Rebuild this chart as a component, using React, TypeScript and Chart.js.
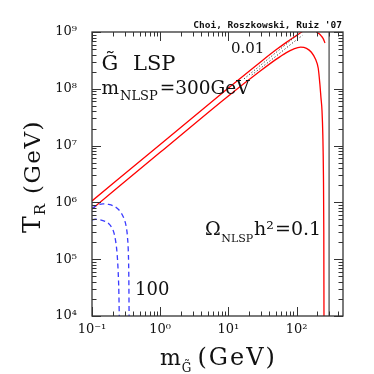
import React, { useEffect, useRef } from 'react';
import { Chart, registerables } from 'chart.js';

Chart.register(...registerables);

// ---- axis ranges & tick labels ----
const xRange = [0.1, 480];
const yRange = [1e4, 1e9];
const xTickValues = [0.1, 1, 10, 100];
const xTickLabels = ['10⁻¹', '10⁰', '10¹', '10²'];
const yTickValues = [1e4, 1e5, 1e6, 1e7, 1e8, 1e9];
const yTickLabels = ['10⁴', '10⁵', '10⁶', '10⁷', '10⁸', '10⁹'];

// ---- series ----
const upperRedX = [0.1, 1, 10, 30, 50, 70, 90, 119, 150, 180, 197, 215, 233, 248, 261];
const upperRedY = [1.06e6, 1.05e7, 1.03e8, 3.0e8, 4.85e8, 6.5e8, 8.0e8, 1.0e9, 1.22e9, 1.2e9, 1.0e9, 9.3e8, 8.4e8, 7.5e8, 6.4e8];

const lowerRedX = [0.1, 1, 10, 30, 50, 70, 90, 115, 140, 165, 190, 208, 220, 228, 236, 243, 248, 251, 252.5];
const lowerRedY = [7.65e5, 7.6e6, 7.5e7, 2.1e8, 3.3e8, 4.3e8, 5.0e8, 5.4e8, 5.15e8, 4.4e8, 3.3e8, 2.3e8, 1.2e8, 7e7, 4.2e7, 1.5e7, 3e6, 3e5, 1e4];

const dotted1X = [17, 40, 75, 100];
const dotted1Y = [1.5e8, 3.5e8, 6.5e8, 8.7e8];
const dotted2X = [22, 50, 90, 122];
const dotted2Y = [1.75e8, 3.75e8, 6.6e8, 8.7e8];

const blueUpperX = [0.1, 0.12, 0.145, 0.175, 0.21, 0.245, 0.275, 0.3, 0.318, 0.332, 0.342, 0.347, 0.35];
const blueUpperY = [7.8e5, 9.0e5, 9.4e5, 9.2e5, 8.6e5, 7.5e5, 6.2e5, 4.9e5, 3.7e5, 2.4e5, 1.2e5, 4.5e4, 1e4];
const blueLowerX = [0.1, 0.112, 0.13, 0.155, 0.175, 0.195, 0.21, 0.222, 0.234, 0.242, 0.248, 0.251];
const blueLowerY = [4.9e5, 5.05e5, 4.95e5, 4.65e5, 4.25e5, 3.6e5, 2.9e5, 2.1e5, 1.2e5, 6e4, 2.5e4, 1e4];

const kinematicX = [300, 300];
const kinematicY = [1e4, 1e9];

// ---- texts ----
const creditText = "Choi, Roszkowski, Ruiz '07";
const lspText = 'LSP';
const gravitino = 'G\u0303';
const contour001 = '0.01';
const contour100 = '100';

const SERIF = '"DejaVu Serif", serif';

const pts = (xs: number[], ys: number[]) => xs.map((x, i) => ({ x, y: ys[i] }));

type Run = { text: string; size: number; dy?: number; gap?: number; ls?: number; weight?: string; family?: string };

function drawRuns(ctx: CanvasRenderingContext2D, x: number, y: number, runs: Run[]) {
  let cx = x;
  for (const r of runs) {
    ctx.font = `${r.weight || 'normal'} ${r.size}px ${r.family || SERIF}`;
    (ctx as any).letterSpacing = `${r.ls || 0}px`;
    ctx.fillText(r.text, cx, y + (r.dy || 0));
    cx += ctx.measureText(r.text).width + (r.gap || 0);
  }
  (ctx as any).letterSpacing = '0px';
}

const framePlugin = {
  id: 'frameAndTicks',
  afterDraw(chart: any) {
    const { ctx, chartArea, scales } = chart;
    const { left, right, top, bottom } = chartArea;
    const xs = scales.x;
    const ys = scales.y;
    ctx.save();
    ctx.strokeStyle = '#333';
    ctx.lineWidth = 1.3;
    ctx.strokeRect(left, top, right - left, bottom - top);
    ctx.lineWidth = 1;
    ctx.beginPath();
    for (let d = -1; d <= 3; d++) {
      for (let k = 1; k <= 9; k++) {
        const v = k * Math.pow(10, d);
        if (v < xRange[0] - 1e-9 || v > xRange[1]) continue;
        const px = Math.round(xs.getPixelForValue(v)) + 0.5;
        const len = k === 1 ? 9 : 4.5;
        ctx.moveTo(px, bottom);
        ctx.lineTo(px, bottom - len);
        ctx.moveTo(px, top);
        ctx.lineTo(px, top + len);
      }
    }
    for (let d = 4; d <= 9; d++) {
      for (let k = 1; k <= 9; k++) {
        const v = k * Math.pow(10, d);
        if (v < yRange[0] || v > yRange[1] * 1.0001) continue;
        const py = Math.round(ys.getPixelForValue(v)) + 0.5;
        const len = k === 1 ? 9 : 4.5;
        ctx.moveTo(left, py);
        ctx.lineTo(left + len, py);
        ctx.moveTo(right, py);
        ctx.lineTo(right - len, py);
      }
    }
    ctx.stroke();

    // texts
    ctx.fillStyle = '#111';
    ctx.textBaseline = 'alphabetic';
    ctx.textAlign = 'right';
    ctx.font = 'bold 9.5px "DejaVu Sans Mono", monospace';
    ctx.fillText(creditText, 342, 28);
    ctx.textAlign = 'left';

    drawRuns(ctx, 101.5, 69.5, [{ text: gravitino, size: 21 }]);
    drawRuns(ctx, 133, 69.5, [{ text: lspText, size: 21 }]);
    drawRuns(ctx, 101.5, 94, [
      { text: 'm', size: 18.5, gap: 1 },
      { text: 'NLSP', size: 13, dy: 6, gap: 2 },
      { text: '=300GeV', size: 18.5 },
    ]);
    drawRuns(ctx, 231, 52.5, [{ text: contour001, size: 15 }]);
    drawRuns(ctx, 135, 295, [{ text: contour100, size: 18 }]);
    drawRuns(ctx, 205, 235, [
      { text: 'Ω', size: 19, gap: 0.5 },
      { text: 'NLSP', size: 11, dy: 7, gap: 1 },
      { text: 'h²', size: 19, gap: 1 },
      { text: '=0.1', size: 19 },
    ]);

    // x title
    drawRuns(ctx, 160, 365, [
      { text: 'm', size: 22, gap: 1 },
      { text: gravitino, size: 12, dy: 6.5, gap: 6 },
      { text: '(GeV)', size: 24, ls: 2 },
    ]);

    // y title
    ctx.save();
    ctx.translate(40, 233);
    ctx.rotate(-Math.PI / 2);
    drawRuns(ctx, 0, 0, [
      { text: 'T', size: 25, gap: 1 },
      { text: 'R', size: 15, dy: 5, gap: 10 },
      { text: '(GeV)', size: 23, ls: 1.5 },
    ]);
    ctx.restore();

    ctx.restore();
  },
};

export default function App() {
  const ref = useRef<HTMLCanvasElement | null>(null);
  useEffect(() => {
    if (!ref.current) return;
    const common = { pointRadius: 0, fill: false, cubicInterpolationMode: 'monotone' as const };
    const chart = new Chart(ref.current, {
      type: 'line',
      data: {
        datasets: [
          { ...common, data: pts(kinematicX, kinematicY), borderColor: '#444', borderWidth: 1.2, cubicInterpolationMode: 'default', tension: 0 },
          { ...common, data: pts(blueUpperX, blueUpperY), borderColor: '#3a3aff', borderWidth: 1.3, borderDash: [5, 3.5] },
          { ...common, data: pts(blueLowerX, blueLowerY), borderColor: '#3a3aff', borderWidth: 1.3, borderDash: [5, 3.5] },
          { ...common, data: pts(dotted1X, dotted1Y), borderColor: '#333', borderWidth: 1, borderDash: [1.2, 2] },
          { ...common, data: pts(dotted2X, dotted2Y), borderColor: '#333', borderWidth: 1, borderDash: [1.2, 2] },
          { ...common, data: pts(upperRedX, upperRedY), borderColor: '#ff0000', borderWidth: 1.3 },
          { ...common, data: pts(lowerRedX, lowerRedY), borderColor: '#ff0000', borderWidth: 1.3 },
        ] as any,
      },
      options: {
        responsive: false,
        animation: false,
        devicePixelRatio: 1,
        layout: { padding: { top: 32, right: 31, left: 0, bottom: 0 } },
        elements: { point: { radius: 0 }, line: { capBezierPoints: false, borderJoinStyle: 'round' } },
        plugins: { legend: { display: false }, tooltip: { enabled: false }, title: { display: false } },
        scales: {
          x: {
            type: 'logarithmic',
            min: xRange[0],
            max: xRange[1],
            grid: { display: false, drawTicks: false },
            border: { display: false },
            ticks: {
              autoSkip: false,
              maxRotation: 0,
              padding: 6,
              color: '#111',
              font: { family: SERIF, size: 13 },
              callback: (_v: any, i: number) => xTickLabels[i],
            },
            afterBuildTicks: (s: any) => {
              s.ticks = xTickValues.map((v) => ({ value: v }));
            },
            afterFit: (s: any) => {
              s.height = 58;
            },
          },
          y: {
            type: 'logarithmic',
            min: yRange[0],
            max: yRange[1],
            grid: { display: false, drawTicks: false },
            border: { display: false },
            ticks: {
              autoSkip: false,
              padding: 15,
              color: '#111',
              font: { family: SERIF, size: 13 },
              callback: (_v: any, i: number) => yTickLabels[i],
            },
            afterBuildTicks: (s: any) => {
              s.ticks = yTickValues.map((v) => ({ value: v }));
            },
            afterFit: (s: any) => {
              s.width = 92;
            },
          },
        },
      } as any,
      plugins: [framePlugin],
    });
    return () => chart.destroy();
  }, []);
  return (
    <div style={{ position: 'fixed', left: 0, top: 0, width: 374, height: 374, background: '#fff' }}>
      <canvas ref={ref} width={374} height={374} style={{ display: 'block', width: 374, height: 374 }} />
    </div>
  );
}
